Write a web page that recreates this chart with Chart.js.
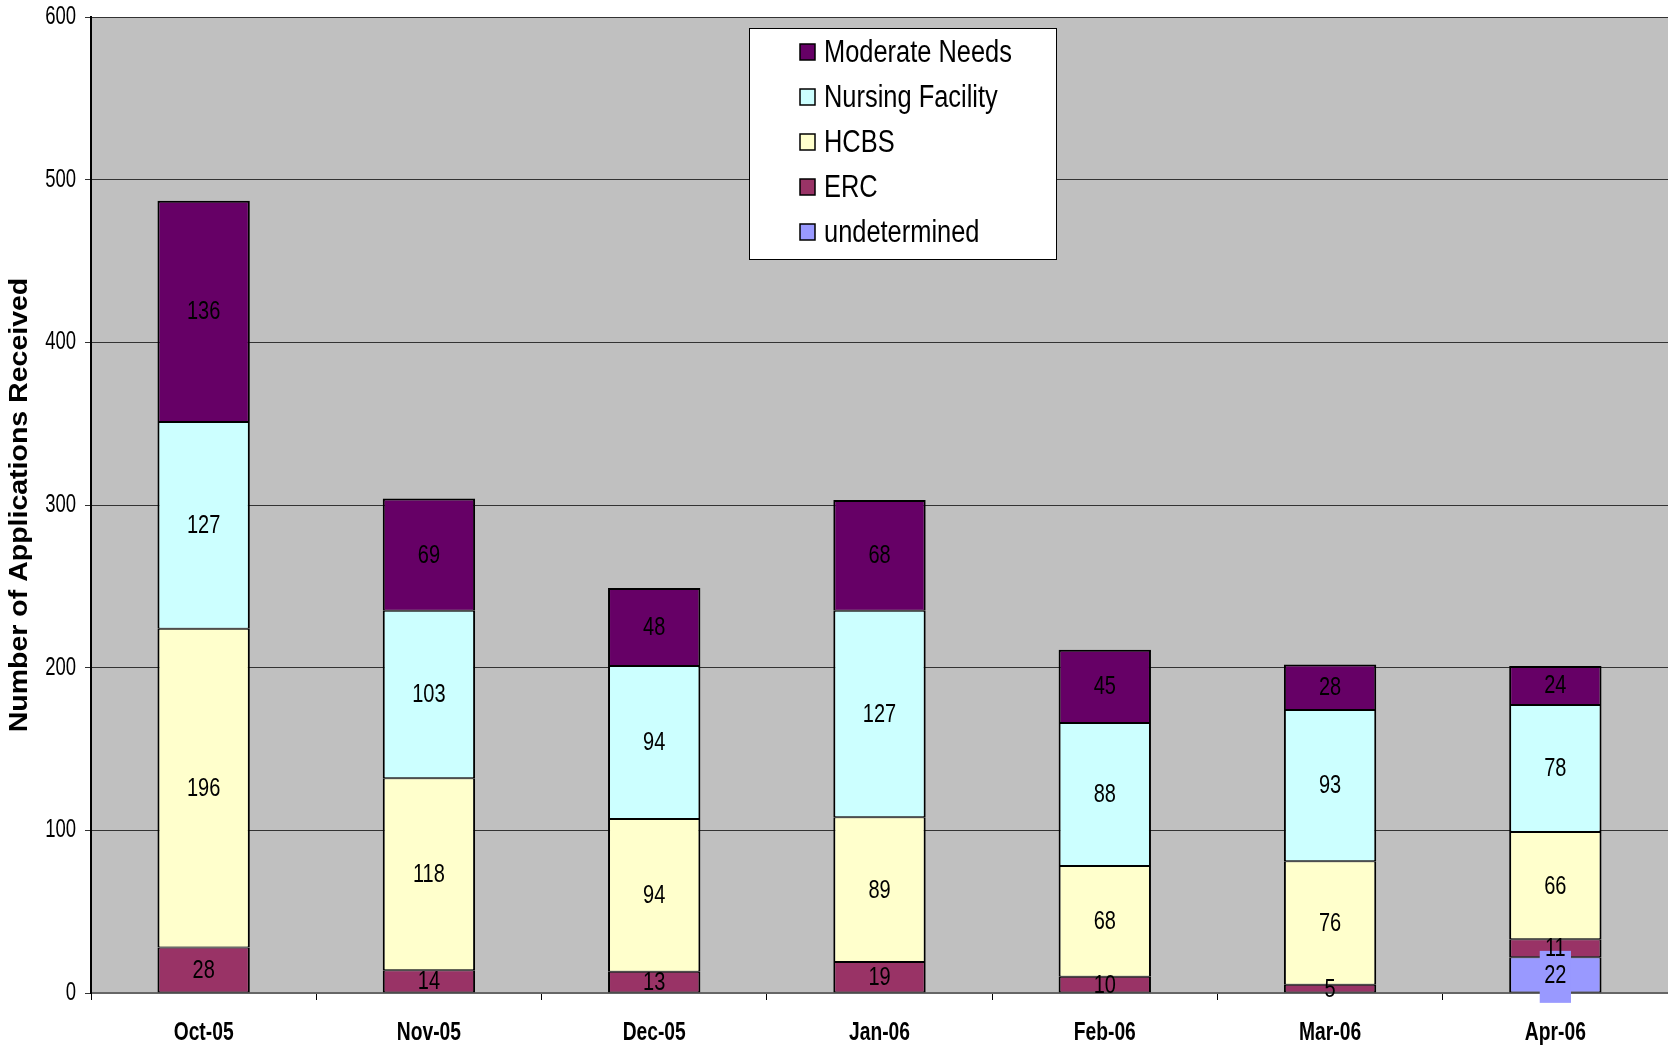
<!DOCTYPE html>
<html>
<head>
<meta charset="utf-8">
<script src="https://cdn.jsdelivr.net/npm/chart.js@4.4.1/dist/chart.umd.min.js"></script>
<style>
  html, body { margin: 0; padding: 0; background: #fff; }
  #wrap { width: 1668px; height: 1047px; position: relative; }
</style>
</head>
<body>
<div id="wrap"><canvas id="apps"></canvas></div>
<script>
const months = ["Oct-05", "Nov-05", "Dec-05", "Jan-06", "Feb-06", "Mar-06", "Apr-06"];
const undetermined = [null, null, null, null, null, null, 22];
const erc = [28, 14, 13, 19, 10, 5, 11];
const hcbs = [196, 118, 94, 89, 68, 76, 66];
const nursingFacility = [127, 103, 94, 127, 88, 93, 78];
const moderateNeeds = [136, 69, 48, 68, 45, 28, 24];
const yTicks = [0, 100, 200, 300, 400, 500, 600];
const yTitle = "Number of Applications Received";

const FONT = "'Liberation Sans', Arial, sans-serif";

// text squeezed (or stretched) horizontally, since no narrow face is around
function drawText(ctx, text, x, y, font, sx, align) {
    ctx.save();
    ctx.font = font;
    ctx.textAlign = align || "center";
    ctx.textBaseline = "middle";
    ctx.translate(x, y);
    ctx.scale(sx, 1);
    ctx.fillText(text, 0, 0);
    ctx.restore();
}

// 1px top/bottom so stacked segments share a ~2px seam
function series(label, data, color, extra) {
    return Object.assign({
        label: label,
        data: data,
        backgroundColor: color,
        borderColor: "#000",
        borderWidth: {top: 1, bottom: 1, left: 2, right: 2},
        borderSkipped: false,
        barPercentage: 0.41,
        categoryPercentage: 1.0
    }, extra || {});
}

// plot area gray, rest of the canvas white
const plotBg = {
    id: "plotBg",
    beforeDraw(chart) {
        const {ctx, chartArea: a} = chart;
        ctx.save();
        ctx.fillStyle = "#fff";
        ctx.fillRect(0, 0, chart.width, chart.height);
        ctx.fillStyle = "#c0c0c0";
        ctx.fillRect(a.left, a.top, a.right - a.left, a.bottom - a.top);
        ctx.restore();
    }
};

// axis texts drawn by hand so they can be condensed
const axisText = {
    id: "axisText",
    afterDraw(chart) {
        const ctx = chart.ctx;
        const xs = chart.scales.x, ys = chart.scales.y;
        ctx.fillStyle = "#000";
        chart.data.labels.forEach((lab, i) => {
            drawText(ctx, lab, xs.getPixelForValue(i), 1033, "bold 25px " + FONT, 0.77);
        });
        yTicks.forEach(v => {
            drawText(ctx, String(v), 76, ys.getPixelForValue(v), "25px " + FONT, 0.74, "right");
        });
        ctx.save();
        ctx.translate(20, (chart.chartArea.top + chart.chartArea.bottom) / 2);
        ctx.rotate(-Math.PI / 2);
        drawText(ctx, yTitle, 0, 0, "bold 25px " + FONT, 1.14);
        ctx.restore();
    }
};

// value printed in the middle of every segment
const segLabels = {
    id: "segLabels",
    afterDatasetsDraw(chart) {
        const ctx = chart.ctx;
        chart.data.datasets.forEach((ds, i) => {
            const meta = chart.getDatasetMeta(i);
            meta.data.forEach((bar, j) => {
                const v = ds.data[j];
                if (v == null) return;
                const y = (bar.y + bar.base) / 2;
                if (ds.labelBg) {
                    ctx.font = "25px " + FONT;
                    const w = ctx.measureText(String(v)).width * 0.8 + 9;
                    ctx.fillStyle = ds.labelBg;
                    ctx.fillRect(bar.x - w / 2, y - 24, w, 52);
                }
                ctx.fillStyle = "#000";
                drawText(ctx, String(v), bar.x, y + 1, "25px " + FONT, 0.8);
            });
        });
    }
};

// boxed legend sitting over the plot, top series first
const boxLegend = {
    id: "boxLegend",
    afterDraw(chart) {
        const ctx = chart.ctx;
        const x0 = 749, y0 = 28, w = 307, h = 231;
        ctx.save();
        ctx.fillStyle = "#fff";
        ctx.fillRect(x0, y0, w, h);
        ctx.strokeStyle = "#000";
        ctx.lineWidth = 1;
        ctx.strokeRect(x0 + 0.5, y0 + 0.5, w, h);
        const items = chart.data.datasets.slice().reverse();
        items.forEach((ds, k) => {
            const cy = y0 + 24 + k * 45;
            ctx.fillStyle = ds.backgroundColor;
            ctx.fillRect(x0 + 51, cy - 8, 15, 16);
            ctx.lineWidth = 1.5;
            ctx.strokeRect(x0 + 51, cy - 8, 15, 16);
            ctx.fillStyle = "#000";
            drawText(ctx, ds.label, x0 + 75, cy + 1, "31px " + FONT, 0.82, "left");
        });
        ctx.restore();
    }
};

new Chart(document.getElementById("apps"), {
    type: "bar",
    data: {
        labels: months,
        datasets: [
            series("undetermined", undetermined, "#9999ff", {labelBg: "#9999ff"}),
            series("ERC", erc, "#993366"),
            series("HCBS", hcbs, "#ffffcc"),
            series("Nursing Facility", nursingFacility, "#ccffff"),
            series("Moderate Needs", moderateNeeds, "#660066",
                {borderWidth: {top: 2, bottom: 1, left: 2, right: 2}})
        ]
    },
    plugins: [plotBg, segLabels, axisText, boxLegend],
    options: {
        responsive: true,
        maintainAspectRatio: false,
        animation: false,
        layout: {padding: {top: 17, right: 0, left: 0, bottom: 0}},
        plugins: {
            legend: {display: false},
            tooltip: {enabled: false}
        },
        scales: {
            x: {
                stacked: true,
                offset: true,
                grid: {
                    display: true,
                    offset: true,
                    drawOnChartArea: false,
                    color: "#000",
                    tickLength: 7
                },
                border: {color: "#666", width: 2},
                ticks: {display: false},
                afterFit(s) { s.height = 54; }
            },
            y: {
                stacked: true,
                min: 0,
                max: 600,
                afterBuildTicks(s) { s.ticks = yTicks.map(v => ({value: v})); },
                grid: {color: "#333", lineWidth: 1, tickLength: 6},
                border: {color: "#000", width: 2},
                ticks: {display: false},
                afterFit(s) { s.width = 91; }
            }
        }
    }
});
</script>
</body>
</html>
